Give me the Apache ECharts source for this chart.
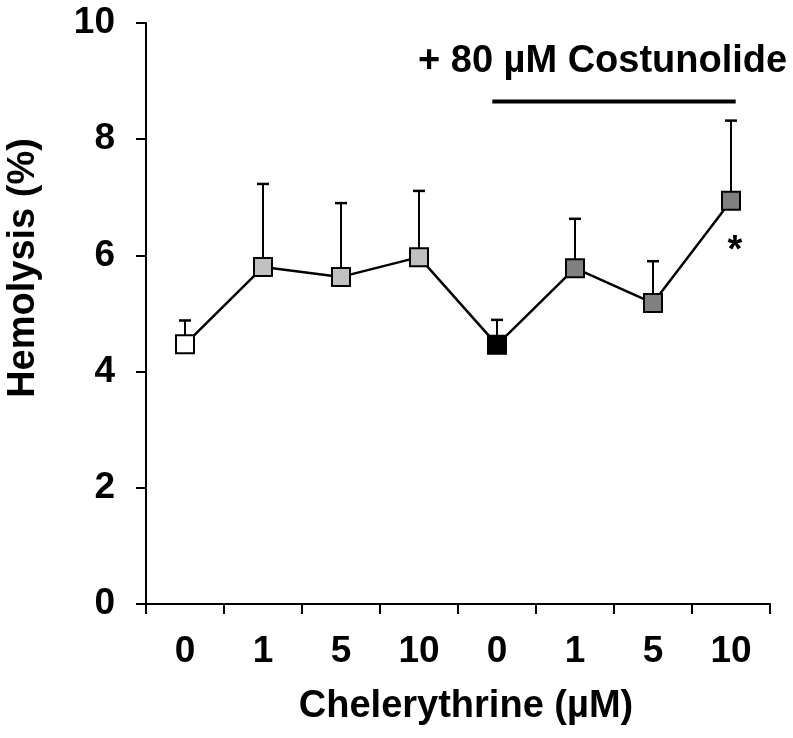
<!DOCTYPE html>
<html>
<head>
<meta charset="utf-8">
<script src="https://cdn.jsdelivr.net/npm/echarts@6/dist/echarts.min.js"></script>
<style>
html,body{margin:0;padding:0;background:#fff;}
#c{width:793px;height:738px;}
</style>
</head>
<body>
<div id="c"></div>
<script>
var tickLabels = ['0','1','5','10','0','1','5','10'];
var means = [4.47, 5.80, 5.63, 5.97, 4.46, 5.78, 5.18, 6.94];
var errors = [0.41, 1.43, 1.27, 1.14, 0.43, 0.85, 0.72, 1.38];
var fillColors = ['#ffffff','#c0c0c0','#c0c0c0','#c0c0c0','#000000','#808080','#808080','#808080'];
var yTicks = [0, 2, 4, 6, 8, 10];
var yTitle = 'Hemolysis (%)';
var xTitle = 'Chelerythrine (µM)';
var annotationText = '+ 80 µM Costunolide';
var annotationSpan = [4.44, 7.56];
var annotationLevel = 8.65;
var sigIndex = 7;

var FONT = '"Liberation Sans", Arial, sans-serif';
var chart = echarts.init(document.getElementById('c'), null, {renderer: 'canvas'});

var lineData = means.map(function (m, i) {
  var d = {value: m, itemStyle: {color: fillColors[i], borderColor: '#000', borderWidth: 2}};
  if (i === sigIndex) {
    d.label = {show: true, formatter: '*', position: 'bottom', distance: 22,
      fontSize: 38, fontWeight: 'bold', fontFamily: FONT, color: '#000', offset: [4, 0]};
  }
  return d;
});

var errData = means.map(function (m, i) { return [i, m, m + errors[i]]; });

chart.setOption({
  animation: false,
  backgroundColor: '#fff',
  grid: {left: 146, right: 23, top: 23, bottom: 134, containLabel: false},
  xAxis: [{
    type: 'category',
    data: tickLabels,
    boundaryGap: true,
    axisLine: {lineStyle: {color: '#000', width: 2}},
    axisTick: {show: true, length: 10, lineStyle: {color: '#000', width: 2}},
    axisLabel: {color: '#000', fontSize: 37, fontWeight: 'bold', fontFamily: FONT, margin: 29, interval: 0},
    name: xTitle,
    nameLocation: 'middle',
    nameGap: 84,
    nameTextStyle: {color: '#000', fontSize: 38, fontWeight: 'bold', fontFamily: FONT, padding: [0, 0, 0, 16]}
  }, {
    type: 'value', min: 0, max: 8, show: false, gridIndex: 0
  }],
  yAxis: {
    type: 'value', min: yTicks[0], max: yTicks[yTicks.length - 1], interval: 2,
    axisLine: {show: true, lineStyle: {color: '#000', width: 2}},
    axisTick: {show: true, length: 10, lineStyle: {color: '#000', width: 2}},
    splitLine: {show: false},
    axisLabel: {color: '#000', fontSize: 37, fontWeight: 'bold', fontFamily: FONT, margin: 31}
  },
  series: [{
    type: 'custom',
    xAxisIndex: 0,
    z: 1,
    data: errData,
    renderItem: function (params, api) {
      var x = api.value(0);
      var base = api.coord([x, api.value(1)]);
      var top = api.coord([x, api.value(2)]);
      var half = 6;
      return {
        type: 'group',
        children: [
          {type: 'line', shape: {x1: base[0], y1: base[1], x2: top[0], y2: top[1]}, style: {stroke: '#000', lineWidth: 2}},
          {type: 'line', shape: {x1: top[0] - half, y1: top[1], x2: top[0] + half, y2: top[1]}, style: {stroke: '#000', lineWidth: 2.5}}
        ]
      };
    }
  }, {
    type: 'line',
    xAxisIndex: 0,
    z: 3,
    data: lineData,
    symbol: 'rect',
    symbolSize: 18,
    lineStyle: {color: '#000', width: 2.5},
    itemStyle: {borderColor: '#000', borderWidth: 2}
  }, {
    type: 'line',
    xAxisIndex: 1,
    z: 2,
    data: [[annotationSpan[0], annotationLevel], [annotationSpan[1], annotationLevel]],
    symbol: 'none',
    lineStyle: {color: '#000', width: 4}
  }],
  graphic: [{
    type: 'text',
    x: 24,
    y: 268,
    rotation: Math.PI / 2,
    style: {text: yTitle, fill: '#000', font: 'bold 38px ' + FONT, align: 'center', verticalAlign: 'middle'}
  }, {
    type: 'text',
    x: 418,
    y: 62,
    style: {text: annotationText, fill: '#000', font: 'bold 38px ' + FONT, align: 'left', verticalAlign: 'middle'}
  }]
});
</script>
</body>
</html>
